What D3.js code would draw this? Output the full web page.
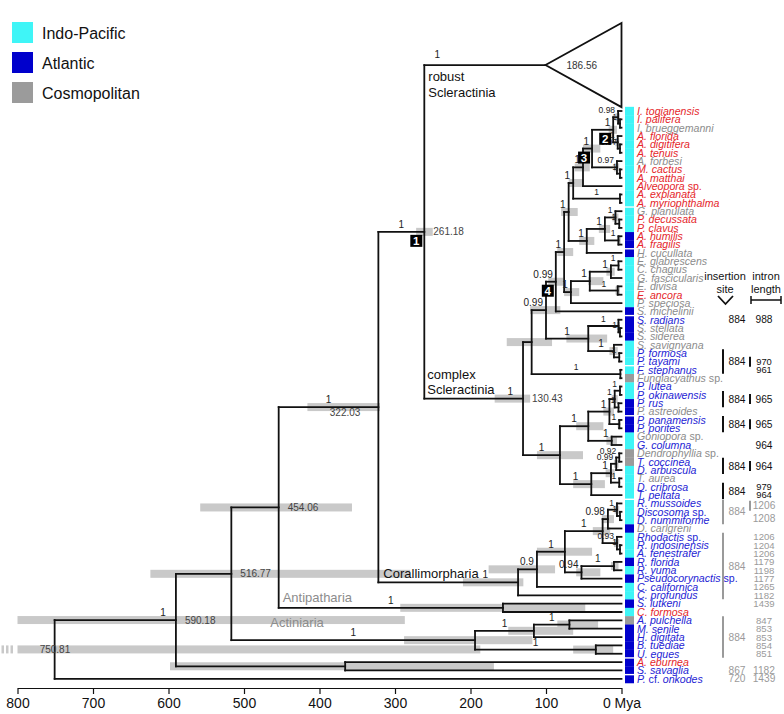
<!DOCTYPE html>
<html><head><meta charset="utf-8">
<script src="https://cdn.jsdelivr.net/npm/d3@7"></script>
<style>
body{margin:0;background:#fff;}
text{font-family:Arial,"Liberation Sans",Helvetica,sans-serif;}
</style></head><body>
<svg id="chart" width="784" height="714"></svg>
<script>
// ---------------- DATA ----------------
const tipNames = [
"I. togianensis","I. palifera","I. brueggemanni","A. florida","A. digitifera","A. tenuis","A. forbesi","M. cactus","A. matthai","Alveopora sp.","A. explanata","A. myriophthalma",
"G. planulata","P. decussata","P. clavus","A. humilis","A. fragilis","H. cucullata",
"E. glabrescens","C. chagius","G. fascicularis","E. divisa","E. ancora","P. speciosa","S. michelinii",
"S. radians","S. stellata","S. siderea","S. savignyana","P. formosa","P. tayami","F. stephanus","Fungiacyathus sp.",
"P. lutea","P. okinawensis","P. rus","P. astreoides","P. panamensis","P. porites","Goniopora sp.","G. columna",
"Dendrophyllia sp.","T. coccinea","D. arbuscula","T. aurea","D. cribrosa","T. peltata",
"R. mussoides","Discosoma sp.","D. nummiforme","D. carlgreni","Rhodactis sp.","R. indosinensis","A. fenestrafer","R. florida","R. yuma","Pseudocorynactis sp.","C. californica","C. profundus",
"S. lutkeni","C. formosa",
"A. pulchella","M. senile","H. digitata","B. tuediae","U. eques",
"A. eburnea","S. savaglia","P. cf. onkodes"];
// I = Indo-Pacific, A = Atlantic, C = Cosmopolitan
const tipRegion = ("IIIIIIIIIIII"+"III"+"AAA"+"IIIIII"+"A"+"AAA"+"IIII"+"C"+"II"+"AAAA"+"II"+"CC"+"IIII"+"III"+"A"+"III"+"A"+"I"+"A"+"II"+"A"+"I"+"C"+"AAAA"+"AAA").split("");
// label tone: r = red, g = grey, b = blue
const tipTone = ("rrgrrrgrrrrr"+"grrrrg"+"ggggrgg"+"bgggbbbg"+"bbbgbbgb"+"gbbgbb"+"bbbgbbbbbbbb"+"br"+"bbbbb"+"rbb").split("");
const regionKeys = ["I","A","C"];
const regionNames = ["Indo-Pacific","Atlantic","Cosmopolitan"];
const axisTicks = [800,700,600,500,400,300,200,100,0];
const collapsedClade = {id:"robust", lines:["robust","Scleractinia"], crownAge:186.56, rows:10, support:"1"};
// internal nodes: [id, child1, child2, age (Mya), posterior support, HPD low, HPD high]; numbers = tip index
const nodes = [
 ["n_ip",2,3,2,"1",null,null],
 ["n_iso",1,"n_ip",4.5,"0.98",2,8],
 ["n_adt",5,6,2,"0.97",null,null],
 ["n_acr",4,"n_adt",5,"1",3,8],
 ["node2","n_iso","n_acr",11,"1",6,17],
 ["n_mc",8,9,2,"1",null,null],
 ["n_ana",7,"n_mc",6,"0.97",3,10],
 ["node3","node2","n_ana",39,"1",28,51],
 ["n_X","node3",10,51,"1",42,62],
 ["n_ast",11,12,2,"1",null,null],
 ["n_Y","n_X","n_ast",64,"1",50,70],
 ["n_pp",14,15,3,"1",null,null],
 ["n_gpp",13,"n_pp",8,"1",4,12],
 ["n_af",16,17,4,"1",1,6],
 ["n_c1317","n_gpp","n_af",22,"1",15,30],
 ["n_c1318","n_c1317",18,46,"1",36,56],
 ["n_P","n_Y","n_c1318",70,"1",58,80],
 ["n_ec",19,20,4,"1",null,null],
 ["n_V","n_ec",21,14,"1",9,20],
 ["n_W",22,23,5,"1",2,8],
 ["n_S","n_V","n_W",42,"1",24,44],
 ["n_R","n_S",24,67,"1",56,76],
 ["n_G","n_P","n_R",76,"1",64,85],
 ["n_E","n_G",25,87,"0.99",77,97],
 ["n_ss",27,28,2,"1",null,null],
 ["n_sid",26,"n_ss",4,"1",2,6],
 ["n_pft",30,31,3,"1",null,null],
 ["n_spp",29,"n_pft",10,"1",5,16],
 ["n_F","n_sid","n_spp",44,"1",19,73],
 ["node4","n_E","n_F",100,"0.99",81,121],
 ["n_fung",32,33,1.5,"1",null,null],
 ["n_B","node4","n_fung",119,"",92,152],
 ["n_plo",34,35,2,"1",null,null],
 ["n_pra",36,37,4,"1",null,null],
 ["n_por1","n_plo","n_pra",9,"1",5,13],
 ["n_ppp",38,39,3,"1",1,5],
 ["n_por","n_por1","n_ppp",16,"1",10,24],
 ["n_gon",40,41,13,"1",6,20],
 ["n_porit","n_por","n_gon",44,"1",24,60],
 ["n_d1",42,43,3,"0.92",null,null],
 ["n_d2","n_d1",44,7,"0.99",4,10],
 ["n_tad",45,46,3,"1",null,null],
 ["n_d3","n_d2","n_tad",14,"1",9,21],
 ["n_dendro","n_d3",47,40,"1",22,64],
 ["n_C","n_porit","n_dendro",81.5,"1",51,112],
 ["n_A","n_B","n_C",130.43,"1",121,168],
 ["n_dn",49,50,2,"1",null,null],
 ["n_cma",48,"n_dn",6,"1",3,9],
 ["n_cmb","n_cma",51,18,"0.98",10,26],
 ["n_ra",53,54,2,"1",null,null],
 ["n_cmc",52,"n_ra",6,"0.93",3,10],
 ["n_cmd","n_cmb","n_cmc",25,"1",15,38],
 ["n_cme",55,56,10,"1",4,14],
 ["n_cmf","n_cme",57,53,"0.94",28,60],
 ["n_cmg","n_cmd","n_cmf",75,"1",39,112],
 ["n_cmh","n_cmg",58,112,"0.9",88,176],
 ["n_cor","n_cmh",59,137,"1",130,210],
 ["n_261","robust","n_A",261.18,"1",250,272],
 ["n_322","n_261","n_cor",322.03,"1",320,416],
 ["n_ant",60,61,157,"1",48,293],
 ["n_454","n_322","n_ant",454.06,"",357,558],
 ["n_am",62,63,69,"1",31,85],
 ["n_act1","n_am",64,116,"1",64,150],
 ["n_bu",65,66,34,"1",11,64],
 ["n_act","n_act1","n_bu",194,"1",118,288],
 ["n_516","n_454","n_act",516.77,"",280,624],
 ["n_es",67,68,366,"",169,598],
 ["n_590","n_516","n_es",590.18,"1",287,800],
 ["root","n_590",69,750.81,"",187,860]
];
const boxedNodes = [["n_261","1"],["node2","2"],["node3","3"],["n_E","4"]];
const ageLabelNodes = ["n_261","n_A","n_322","n_454","n_516","n_590","root"];
const cladeLabels = [
 {node:"robust", lines:["robust","Scleractinia"], tone:"k"},
 {node:"n_A", lines:["complex","Scleractinia"], tone:"k"},
 {node:"n_cor", lines:["Corallimorpharia"], tone:"k"},
 {node:"n_ant", lines:["Antipatharia"], tone:"g"},
 {node:"n_act", lines:["Actiniaria"], tone:"g"}
];
const stripBreaks = [12,17,25,31,37,47,66,68];
const siteGroups = [
 {first:26,last:26,site:"884",bar:false,tone:"k"},
 {first:30,last:32,site:"884",bar:true,tone:"k"},
 {first:35,last:36,site:"884",bar:true,tone:"k"},
 {first:38,last:39,site:"884",bar:true,tone:"k"},
 {first:43,last:44,site:"884",bar:true,tone:"k"},
 {first:46,last:47,site:"884",bar:true,tone:"k"},
 {first:48,last:50,site:"884",bar:true,tone:"g"},
 {first:52,last:59,site:"884",bar:true,tone:"g"},
 {first:62,last:66,site:"884",bar:true,tone:"g"},
 {first:68,last:68,site:"867",bar:false,tone:"g"},
 {first:69,last:69,site:"720",bar:false,tone:"g"}
];
const intronGroups = [
 {first:26,last:26,values:["988"],bar:false,tone:"k"},
 {first:31,last:32,values:["970","961"],bar:true,tone:"k"},
 {first:35,last:36,values:["965"],bar:true,tone:"k"},
 {first:38,last:39,values:["965"],bar:true,tone:"k"},
 {first:41,last:41,values:["964"],bar:false,tone:"k"},
 {first:43,last:44,values:["964"],bar:true,tone:"k"},
 {first:46,last:47,values:["979","964"],bar:false,tone:"k"},
 {first:48,last:50,values:["1206","1208"],bar:true,tone:"g"},
 {first:52,last:60,values:["1206","1204","1206","1179","1198","1177","1265","1182","1439"],bar:false,tone:"g"},
 {first:62,last:66,values:["847","853","853","854","851"],bar:false,tone:"g"},
 {first:68,last:68,values:["1182"],bar:false,tone:"g"},
 {first:69,last:69,values:["1439"],bar:false,tone:"g"}
];

// ---------------- STYLE ----------------
const regionColor = {I:"#3ff5f7", A:"#0000cc", C:"#9b9b9b"};
const toneColor = {r:"#e5262b", g:"#8c8c8c", b:"#2424d4", k:"#111"};
const colTone = {k:"#111", g:"#9a9a9a"};
const hpdColor = "#c9c9c9";

// ---------------- SCALES ----------------
const svg = d3.select("#chart");
const x = d3.scaleLinear().domain([800,0]).range([17.5,621.5]);
// rows: collapsed clade occupies rows 0..9, tip i sits at row i+9
const rowY = d3.scaleLinear().domain([10,78]).range([111,678.8]);
const tipY = i => rowY(i + collapsedClade.rows - 1);
const step = rowY(11) - rowY(10);
const triW = 76;

const nodeMap = new Map(nodes.map(n => [n[0], {id:n[0], kids:[n[1],n[2]], age:n[3], sup:n[4], hpd:n[5]!=null?[n[5],n[6]]:null}]));
const parent = new Map();
nodes.forEach(n => { parent.set(n[1], n[0]); parent.set(n[2], n[0]); });

function getY(ref){
  if (typeof ref === "number") return tipY(ref);
  if (ref === collapsedClade.id) return rowY((collapsedClade.rows-1)/2);
  const nd = nodeMap.get(ref);
  if (nd.y == null) nd.y = d3.mean(nd.kids, getY);
  return nd.y;
}
function getX(ref){
  if (typeof ref === "number") return x(0);
  if (ref === collapsedClade.id) return x(0) - triW;
  return x(nodeMap.get(ref).age);
}
nodes.forEach(n => getY(n[0]));

// ---------------- HPD BARS ----------------
const gBars = svg.append("g");
nodeMap.forEach(nd => {
  if (!nd.hpd) return;
  const lo = x(Math.min(nd.hpd[1], 800)), hi = x(nd.hpd[0]);
  gBars.append("rect").attr("x", lo).attr("y", nd.y-4).attr("width", hi-lo).attr("height", 8).attr("fill", hpdColor);
  if (nd.hpd[1] > 800) {
    [1.5,6,10.5].forEach(px => gBars.append("rect").attr("x", px).attr("y", nd.y-4).attr("width", 2.5).attr("height", 8).attr("fill", hpdColor));
  }
});

// ---------------- TREE ----------------
const gTree = svg.append("g").attr("stroke","#111").attr("stroke-width",1.8).attr("fill","none").attr("stroke-linecap","square");
nodeMap.forEach(nd => {
  const nx = x(nd.age);
  gTree.append("line").attr("x1",nx).attr("x2",nx).attr("y1",getY(nd.kids[0])).attr("y2",getY(nd.kids[1]));
  nd.kids.forEach(k => {
    gTree.append("line").attr("x1",nx).attr("x2",getX(k)).attr("y1",getY(k)).attr("y2",getY(k));
  });
});
{
  const ay = getY(collapsedClade.id), ax = getX(collapsedClade.id);
  const top = rowY(0)-4.5, bot = rowY(collapsedClade.rows-1)+4.5;
  gTree.append("path").attr("d", `M${ax},${ay}L${x(0)},${top}L${x(0)},${bot}Z`).attr("fill","#fff").attr("stroke-linejoin","miter");
  svg.append("text").attr("x", ax+21).attr("y", ay).attr("dy","0.35em").attr("font-size",10).attr("fill","#333").text(collapsedClade.crownAge.toFixed(2));
}

// ---------------- SUPPORT LABELS ----------------
const gSup = svg.append("g").attr("fill","#222");
const supPlace = {
  "n_A":   (px,cx) => ({x:cx-10, anchor:"end"}),
  "n_cor": (px,cx) => ({x:cx-30, anchor:"end"}),
  "n_590": (px,cx) => ({x:cx-10, anchor:"end"}),
  "robust":(px,cx) => ({x:px+13, anchor:"middle"})
};
function supportLabel(ref, text, age){
  if (!text) return;
  const p = parent.get(ref); if (!p) return;
  const px = x(nodeMap.get(p).age), cx = getX(ref), cy = getY(ref);
  let pos;
  if (supPlace[ref]) pos = supPlace[ref](px,cx);
  else if (cx - px < 25) pos = {x:cx-3, anchor:"end"};
  else pos = {x:(px+cx)/2, anchor:"middle"};
  gSup.append("text").attr("x", pos.x).attr("y", cy-(ref==="robust"?7:4)).attr("text-anchor", pos.anchor)
    .attr("font-size", age < 10 ? 8.5 : 10).text(text);
}
nodeMap.forEach(nd => supportLabel(nd.id, nd.sup, nd.age));
supportLabel(collapsedClade.id, collapsedClade.support, 999);

// ---------------- AGE LABELS ----------------
ageLabelNodes.forEach(id => {
  const nd = nodeMap.get(id), nx = x(nd.age);
  const t = svg.append("text").attr("y", nd.y).attr("dy","0.35em").attr("font-size",10).attr("fill","#444").text(nd.age.toFixed(2));
  if (id === "n_322") t.attr("x", nx-18).attr("y", nd.y+5).attr("text-anchor","end");
  else if (id === "root") t.attr("x", nx-15);
  else t.attr("x", nx+9);
});

// ---------------- NUMBERED BOXES ----------------
boxedNodes.forEach(([id, lab]) => {
  const nd = nodeMap.get(id), nx = x(nd.age);
  svg.append("rect").attr("x", nx-14).attr("y", nd.y+3).attr("width",12).attr("height",12).attr("fill","#000");
  svg.append("text").attr("x", nx-8).attr("y", nd.y+9).attr("dy","0.36em").attr("text-anchor","middle")
    .attr("font-size",11.5).attr("font-weight","bold").attr("fill","#fff").text(lab);
});

// ---------------- CLADE LABELS ----------------
cladeLabels.forEach(c => {
  const y = getY(c.node);
  const px = x(nodeMap.get(parent.get(c.node)).age);
  const g = svg.append("g").attr("font-size",13).attr("fill", toneColor[c.tone]);
  if (c.node === collapsedClade.id) {
    c.lines.forEach((l,i) => g.append("text").attr("x", px+4).attr("y", y+16+i*16).text(l));
  } else if (c.node === "n_A") {
    c.lines.forEach((l,i) => g.append("text").attr("x", px+3).attr("y", y-20+i*15).text(l));
  } else if (c.node === "n_cor") {
    g.append("text").attr("x", px+5).attr("y", y-4).text(c.lines[0]);
  } else if (c.node === "n_ant") {
    g.append("text").attr("x", px+4).attr("y", y-6).text(c.lines[0]);
  } else {
    g.append("text").attr("x", px+39).attr("y", y-13).text(c.lines[0]);
  }
});

// ---------------- REGION STRIP + TIP LABELS ----------------
tipNames.forEach((name, i) => {
  const y = tipY(i+1);
  svg.append("rect").attr("x",625).attr("y", y-step/2).attr("width",9).attr("height",step+0.3).attr("fill", regionColor[tipRegion[i]]);
});
stripBreaks.forEach(b => {
  const yb = (tipY(b)+tipY(b+1))/2;
  svg.append("line").attr("x1",624).attr("x2",635).attr("y1",yb).attr("y2",yb).attr("stroke","#fff").attr("stroke-width",1.4);
});
tipNames.forEach((name, i) => {
  const y = tipY(i+1);
  const t = svg.append("text").attr("x",637).attr("y",y).attr("dy","0.36em").attr("font-size",10.6).attr("fill", toneColor[tipTone[i]]);
  let parts;
  if (name.endsWith(" sp.")) parts = [[name.slice(0,-4),true],[" sp.",false]];
  else if (name.includes(" cf. ")) { const s = name.split(" cf. "); parts = [[s[0],true],[" cf. ",false],[s[1],true]]; }
  else parts = [[name,true]];
  parts.forEach(([s,it]) => t.append("tspan").attr("font-style", it?"italic":"normal").text(s));
});

// ---------------- INSERTION SITE / INTRON LENGTH ----------------
const gCol = svg.append("g").attr("font-size",10.2);
const hdr = svg.append("g").attr("font-size",11).attr("fill","#111").attr("text-anchor","middle");
hdr.append("text").attr("x",725).attr("y",280).text("insertion");
hdr.append("text").attr("x",725).attr("y",293).text("site");
hdr.append("text").attr("x",766).attr("y",280).text("intron");
hdr.append("text").attr("x",766).attr("y",293).text("length");
svg.append("path").attr("d","M718,296L725.5,304L733,296").attr("fill","none").attr("stroke","#111").attr("stroke-width",1.8);
svg.append("path").attr("d","M751,300H781M751,296V304M781,296V304").attr("fill","none").attr("stroke","#111").attr("stroke-width",1.5);

siteGroups.forEach(s => {
  const y1 = tipY(s.first)-4, y2 = tipY(s.last)+4, ym = (tipY(s.first)+tipY(s.last))/2;
  const col = colTone[s.tone];
  if (s.bar) gCol.append("line").attr("x1",723).attr("x2",723).attr("y1",y1).attr("y2",y2).attr("stroke",col).attr("stroke-width",2);
  gCol.append("text").attr("x",737).attr("y",ym).attr("dy","0.36em").attr("text-anchor","middle").attr("fill",col).text(s.site);
});
intronGroups.forEach(s => {
  const col = colTone[s.tone];
  const n = s.values.length, rows = s.last - s.first + 1;
  const yc = (tipY(s.first)+tipY(s.last))/2;
  const factor = rows > n ? 1.45 : (n === 2 ? 0.95 : 1.0);
  const gap = n > 1 ? step * factor : 0;
  const ys = s.values.map((v,k) => yc + (k-(n-1)/2)*gap);
  if (s.bar) {
    const y1 = (n>1 ? ys[0] : yc) - 5;
    const y2 = (n>1 ? ys[0] + 5 : yc + 5);
    gCol.append("line").attr("x1",750).attr("x2",750).attr("y1",y1).attr("y2",y2).attr("stroke",col).attr("stroke-width",2);
  }
  const fs = n > 3 ? 9.6 : (n === 2 && rows === 2 ? 9.4 : 10.2);
  s.values.forEach((v,k) => gCol.append("text").attr("x",764).attr("y",ys[k]).attr("dy","0.36em").attr("text-anchor","middle")
    .attr("font-size", fs).attr("fill",col).text(v));
});

// ---------------- LEGEND ----------------
regionKeys.forEach((k,i) => {
  svg.append("rect").attr("x",12).attr("y",22+i*30).attr("width",21).attr("height",21).attr("fill",regionColor[k]);
  svg.append("text").attr("x",42).attr("y",33+i*30).attr("dy","0.36em").attr("font-size",16).attr("fill","#111").text(regionNames[i]);
});

// ---------------- AXIS ----------------
const axis = d3.axisBottom(x).tickValues(axisTicks).tickSize(6).tickSizeOuter(0).tickPadding(4)
  .tickFormat(d => d === 0 ? "0 Mya" : d);
svg.append("g").attr("transform","translate(0,688)").call(axis)
  .call(g => g.selectAll("text").attr("font-size",14).attr("fill","#111").style("font-family","Arial, 'Liberation Sans', sans-serif"))
  .call(g => g.selectAll("line").attr("stroke","#111").attr("stroke-width",1.2))
  .call(g => g.select(".domain").attr("stroke","#111").attr("stroke-width",1.2));
</script>
</body></html>
